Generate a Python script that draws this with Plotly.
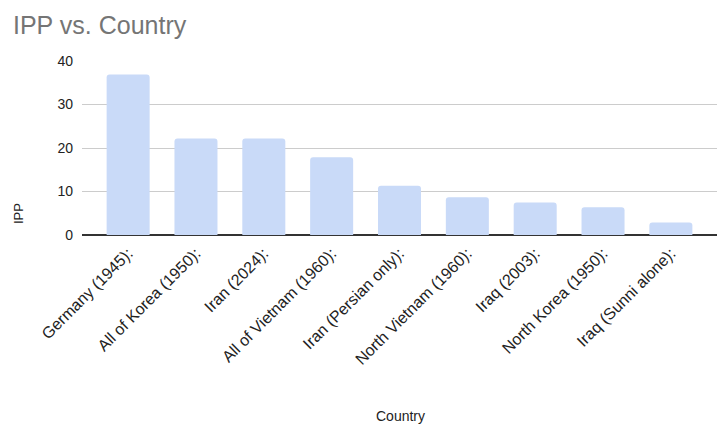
import plotly.graph_objects as go

countries = ["Germany (1945):", "All of Korea (1950):", "Iran (2024):", "All of Vietnam (1960):",
             "Iran (Persian only):", "North Vietnam (1960):", "Iraq (2003):", "North Korea (1950):",
             "Iraq (Sunni alone):"]
ipp = [36.9, 22.2, 22.2, 17.9, 11.3, 8.7, 7.5, 6.4, 2.9]
y_ticks = [0, 10, 20, 30, 40]

# page has an 8px body margin; work in figure coordinates
W, H = 719, 433
pl, pr, pt, pb = 74, 709, 53, 227

fig = go.Figure(go.Bar(
    x=list(range(len(countries))), y=ipp,
    marker=dict(color="#c9daf8", line=dict(width=0), cornerradius=3),
))

fig.update_layout(
    width=W, height=H,
    margin=dict(l=pl, r=W - pr, t=pt, b=H - pb, autoexpand=False),
    paper_bgcolor="white", plot_bgcolor="white",
    font=dict(family="Arial, Liberation Sans", size=14, color="#222"),
    bargap=0.366,
    showlegend=False,
    title=dict(text="IPP vs. Country", x=5 / W, xanchor="left", y=1 - 17 / H, yanchor="middle",
               font=dict(size=25, color="#757575", family="Arial, Liberation Sans")),
    xaxis=dict(
        tickmode="array", tickvals=list(range(len(countries))), ticktext=countries,
        tickangle=-45, range=[-0.68, 8.68], showgrid=False, zeroline=False,
        showline=False, ticks="", tickfont=dict(size=16, color="#222"),
        ticklabelstandoff=5,
    ),
    yaxis=dict(
        range=[0, 40], tickvals=y_ticks, showgrid=True, gridcolor="#cccccc", gridwidth=1,
        zeroline=True, zerolinecolor="#333333", zerolinewidth=1.5,
        ticks="", tickfont=dict(size=14, color="#222"), ticklabelstandoff=8,
    ),
    annotations=[
        dict(text="Country", x=(392 - pl) / (pr - pl), y=(pb - 408) / (pb - pt),
             xref="paper", yref="paper",
             xanchor="center", yanchor="middle", showarrow=False,
             font=dict(size=14, color="#222")),
        dict(text="IPP", x=(10 - pl) / (pr - pl), y=(pb - 206) / (pb - pt),
             xref="paper", yref="paper",
             xanchor="center", yanchor="middle", showarrow=False, textangle=-90,
             font=dict(size=13, color="#222")),
    ],
)

fig.write_html("out.html")
